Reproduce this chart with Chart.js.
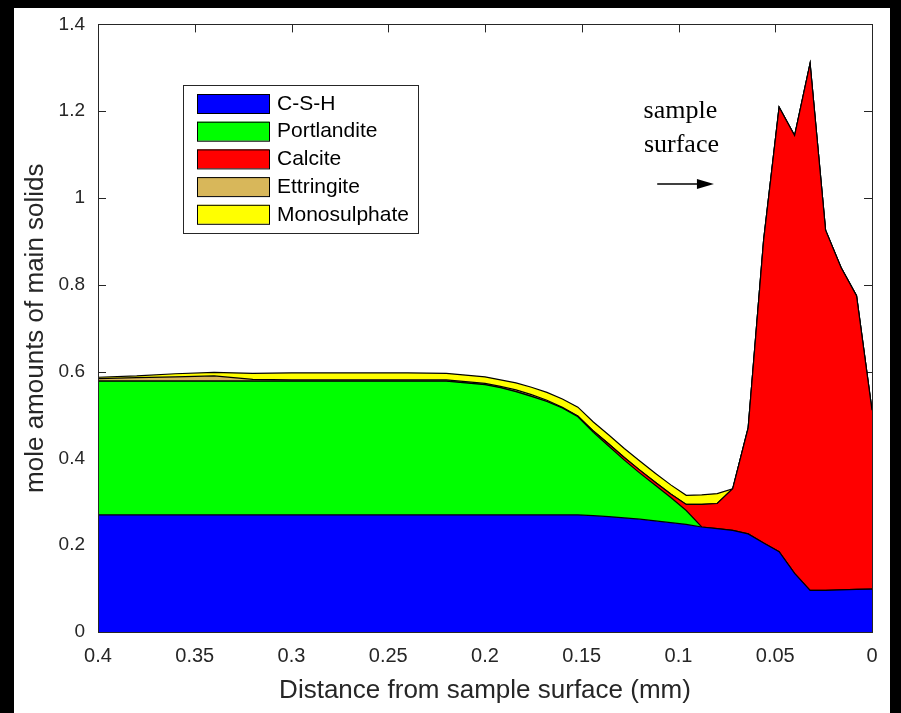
<!DOCTYPE html>
<html>
<head>
<meta charset="utf-8">
<script src="https://cdn.jsdelivr.net/npm/chart.js@4.4.0/dist/chart.umd.min.js"></script>
<style>
  html, body { margin: 0; padding: 0; background: #000; }
  canvas { display: block; }
</style>
</head>
<body>
<canvas id="solidsChart" width="901" height="713"></canvas>
<script>
// distance from sample surface (mm)
const distance = [0.4, 0.38, 0.36, 0.34, 0.32, 0.3, 0.28, 0.26, 0.24, 0.22,
  0.2, 0.192, 0.184, 0.176, 0.168, 0.16, 0.152, 0.144, 0.136, 0.128, 0.12, 0.112, 0.104, 0.096,
  0.088, 0.08, 0.072, 0.064, 0.056, 0.048, 0.04, 0.032, 0.024, 0.016, 0.008, 0];

// mole amounts of each solid (stacked)
const csh = [0.27, 0.27, 0.27, 0.27, 0.27, 0.27, 0.27, 0.27, 0.27, 0.27,
  0.27, 0.27, 0.27, 0.27, 0.27, 0.27, 0.27, 0.268, 0.266, 0.263, 0.26, 0.256, 0.252, 0.248,
  0.242, 0.238, 0.234, 0.226, 0.205, 0.185, 0.135, 0.096, 0.096, 0.097, 0.098, 0.099];
const portlandite = [0.308, 0.308, 0.308, 0.308, 0.308, 0.308, 0.308, 0.308, 0.308, 0.308,
  0.3, 0.293, 0.284, 0.273, 0.261, 0.246, 0.226, 0.192, 0.162, 0.133, 0.106, 0.082, 0.058, 0.032,
  0, 0, 0, 0, 0, 0, 0, 0, 0, 0, 0, 0];
const calcite = [0, 0, 0, 0, 0, 0, 0, 0, 0, 0,
  0, 0, 0, 0, 0, 0, 0.001, 0.003, 0.005, 0.006, 0.007, 0.007, 0.008, 0.014,
  0.052, 0.058, 0.096, 0.244, 0.698, 1.024, 1.009, 1.214, 0.83, 0.743, 0.677, 0.412];
const ettringite = [0.006, 0.008, 0.01, 0.012, 0.004, 0.003, 0.003, 0.003, 0.003, 0.003,
  0.003, 0.003, 0.004, 0.004, 0.003, 0.002, 0.001, 0, 0, 0, 0, 0, 0, 0,
  0, 0, 0, 0, 0, 0, 0, 0, 0, 0, 0, 0];
const monosulphate = [0.003, 0.004, 0.007, 0.008, 0.014, 0.016, 0.016, 0.016, 0.016, 0.015,
  0.015, 0.015, 0.016, 0.017, 0.018, 0.019, 0.02, 0.021, 0.021, 0.021, 0.021, 0.021, 0.021, 0.021,
  0.022, 0.023, 0, 0, 0, 0, 0, 0, 0, 0, 0, 0];

const seriesNames = ["C-S-H", "Portlandite", "Calcite", "Ettringite", "Monosulphate"];
const seriesColors = ["#0000ff", "#00ff00", "#ff0000", "#d8b75a", "#ffff00"];

const xTicks = [0.4, 0.35, 0.3, 0.25, 0.2, 0.15, 0.1, 0.05, 0];
const yTicks = [0, 0.2, 0.4, 0.6, 0.8, 1, 1.2, 1.4];

const sans = "'Liberation Sans', Arial, sans-serif";
const axisColor = "#262626";

const series = [csh, portlandite, calcite, ettringite, monosulphate];
const datasets = series.map((vals, i) => ({
  label: seriesNames[i],
  data: distance.map((d, j) => ({ x: d, y: vals[j] })),
  backgroundColor: seriesColors[i],
  borderColor: "#000",
  borderWidth: 1.2,
  pointRadius: 0,
  tension: 0,
  fill: i === 0 ? "origin" : "-1",
}));

// black frame behind the white figure
const framePlugin = {
  id: "frame",
  beforeDraw(chart) {
    const ctx = chart.ctx;
    ctx.save();
    ctx.fillStyle = "#000";
    ctx.fillRect(0, 0, chart.width, chart.height);
    ctx.fillStyle = "#fff";
    ctx.fillRect(14, 8, 876, 705);
    ctx.restore();
  },
};

// matlab style inward ticks + box
const boxPlugin = {
  id: "box",
  beforeDatasetsDraw(chart) {
    const { ctx, chartArea: a, scales } = chart;
    ctx.save();
    ctx.strokeStyle = axisColor;
    ctx.lineWidth = 1;
    ctx.beginPath();
    xTicks.forEach((v) => {
      const px = Math.round(scales.x.getPixelForValue(v)) + 0.5;
      ctx.moveTo(px, a.bottom); ctx.lineTo(px, a.bottom - 8);
      ctx.moveTo(px, a.top); ctx.lineTo(px, a.top + 8);
    });
    yTicks.forEach((v) => {
      const py = Math.round(scales.y.getPixelForValue(v)) + 0.5;
      ctx.moveTo(a.left, py); ctx.lineTo(a.left + 8, py);
      ctx.moveTo(a.right, py); ctx.lineTo(a.right - 8, py);
    });
    ctx.stroke();
    ctx.restore();
  },
  afterDatasetsDraw(chart) {
    const { ctx, chartArea: a } = chart;
    ctx.save();
    ctx.strokeStyle = axisColor;
    ctx.lineWidth = 1;
    ctx.strokeRect(Math.round(a.left) + 0.5, Math.round(a.top) + 0.5,
      Math.round(a.right - a.left), Math.round(a.bottom - a.top));
    ctx.restore();
  },
};

// legend box inside the axes + "sample surface" note
const legendPlugin = {
  id: "insideLegend",
  afterDraw(chart) {
    const { ctx, scales } = chart;
    ctx.save();
    ctx.fillStyle = "#fff";
    ctx.fillRect(183, 85, 235, 148);
    ctx.strokeStyle = axisColor;
    ctx.lineWidth = 1;
    ctx.strokeRect(183.5, 85.5, 235, 148);
    ctx.font = "21px " + sans;
    ctx.textBaseline = "middle";
    chart.data.datasets.forEach((ds, i) => {
      const top = 94 + i * 27.7;
      ctx.fillStyle = ds.backgroundColor;
      ctx.fillRect(197, top, 72, 19);
      ctx.strokeStyle = "#000";
      ctx.strokeRect(197.5, top + 0.5, 72, 19);
      ctx.fillStyle = "#000";
      ctx.fillText(ds.label, 277, top + 10);
    });

    // annotation
    ctx.font = "26px 'Liberation Serif', 'Times New Roman', serif";
    ctx.textAlign = "center";
    ctx.textBaseline = "alphabetic";
    ctx.fillStyle = "#000";
    const tx = scales.x.getPixelForValue(0.099);
    ctx.fillText("sample", tx, scales.y.getPixelForValue(1.185));
    ctx.fillText("surface", tx + 1, scales.y.getPixelForValue(1.105));

    const ay = scales.y.getPixelForValue(1.032);
    const x0 = scales.x.getPixelForValue(0.111);
    const x1 = scales.x.getPixelForValue(0.0817);
    ctx.strokeStyle = "#000";
    ctx.lineWidth = 1.5;
    ctx.beginPath();
    ctx.moveTo(x0, ay); ctx.lineTo(x1 - 10, ay);
    ctx.stroke();
    ctx.beginPath();
    ctx.moveTo(x1, ay); ctx.lineTo(x1 - 17, ay - 5); ctx.lineTo(x1 - 17, ay + 5);
    ctx.closePath();
    ctx.fill();
    ctx.restore();
  },
};

const fmt = (v) => String(Number(v.toFixed(2)));

new Chart(document.getElementById("solidsChart"), {
  type: "line",
  data: { datasets: datasets },
  options: {
    responsive: false,
    animation: false,
    devicePixelRatio: 1,
    layout: { padding: { top: 24, right: 29, left: 0, bottom: 0 } },
    plugins: {
      legend: { display: false },
      tooltip: { enabled: false },
    },
    scales: {
      x: {
        type: "linear",
        reverse: true,
        min: 0,
        max: 0.4,
        afterBuildTicks: (scale) => { scale.ticks = xTicks.map((v) => ({ value: v })); },
        afterFit: (scale) => { scale.height = 81; },
        grid: { display: false, drawTicks: false },
        border: { display: false },
        ticks: {
          padding: 12,
          maxRotation: 0,
          autoSkip: false,
          color: axisColor,
          font: { family: sans, size: 20 },
          callback: (v) => fmt(v),
        },
        title: {
          display: true,
          text: "Distance from sample surface (mm)",
          color: axisColor,
          font: { family: sans, size: 26 },
          padding: { top: 4, bottom: 7 },
        },
      },
      y: {
        type: "linear",
        stacked: true,
        min: 0,
        max: 1.4,
        afterBuildTicks: (scale) => { scale.ticks = yTicks.map((v) => ({ value: v })); },
        afterFit: (scale) => { scale.width = 98; },
        grid: { display: false, drawTicks: false },
        border: { display: false },
        ticks: {
          padding: 13,
          color: axisColor,
          font: { family: sans, size: 19 },
          callback: (v) => fmt(v),
        },
        title: {
          display: true,
          text: "mole amounts of main solids",
          color: axisColor,
          font: { family: sans, size: 26 },
          padding: { top: 20, bottom: 4 },
        },
      },
    },
  },
  plugins: [framePlugin, boxPlugin, legendPlugin],
});
</script>
</body>
</html>
